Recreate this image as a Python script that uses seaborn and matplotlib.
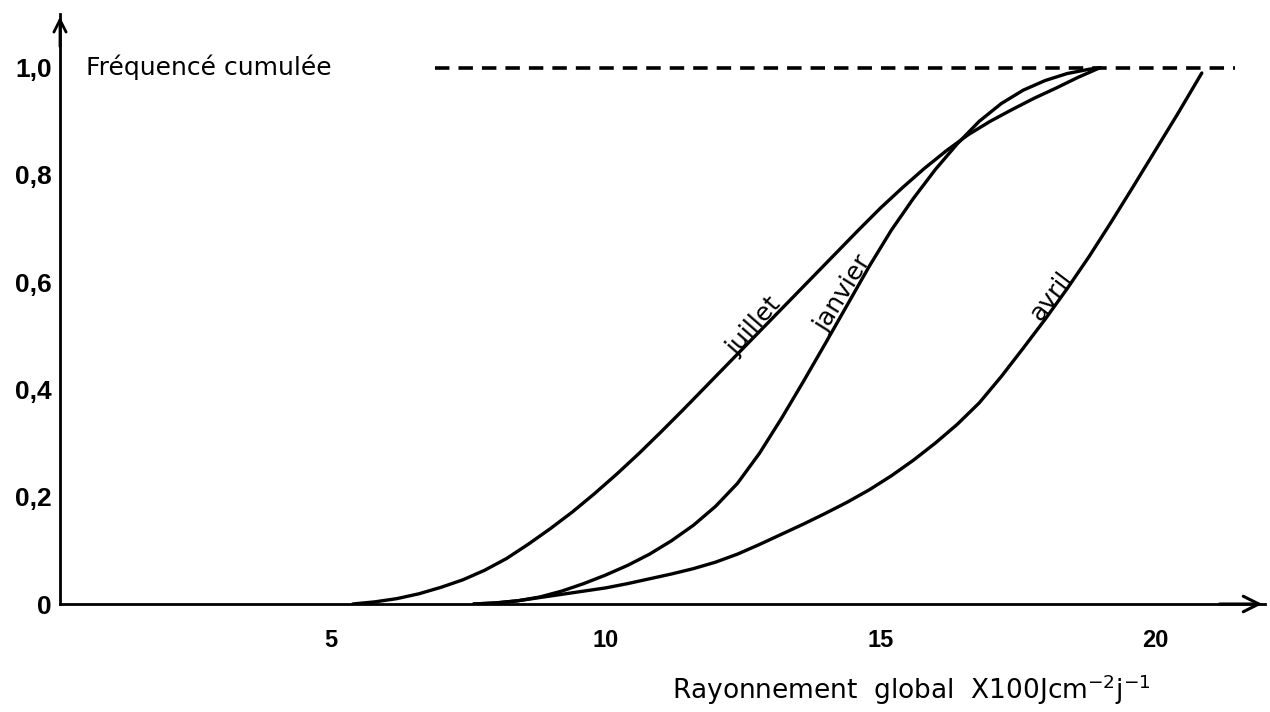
import matplotlib
matplotlib.use("Agg")
import matplotlib.pyplot as plt
import seaborn as sns
import pandas as pd

# ---- data ----
juillet_x = [5.4, 5.8, 6.2, 6.6, 7.0, 7.4, 7.8, 8.2, 8.6, 9.0, 9.4, 9.8, 10.2, 10.6,
             11.0, 11.4, 11.8, 12.2, 12.6, 13.0, 13.4, 13.8, 14.2, 14.6, 15.0, 15.4,
             15.8, 16.2, 16.6, 17.0, 17.4, 17.8, 18.2, 18.6, 19.0]
juillet_y = [0.0, 0.004, 0.01, 0.019, 0.031, 0.045, 0.063, 0.085, 0.112, 0.141, 0.172,
             0.206, 0.242, 0.28, 0.32, 0.361, 0.403, 0.445, 0.487, 0.529, 0.571, 0.613,
             0.655, 0.697, 0.738, 0.776, 0.812, 0.845, 0.875, 0.9, 0.922, 0.943, 0.962,
             0.982, 1.0]

janvier_x = [7.6, 8.0, 8.4, 8.8, 9.2, 9.6, 10.0, 10.4, 10.8, 11.2, 11.6, 12.0, 12.4,
             12.8, 13.2, 13.6, 14.0, 14.4, 14.8, 15.2, 15.6, 16.0, 16.4, 16.8, 17.2,
             17.6, 18.0, 18.4, 18.8, 19.0]
janvier_y = [0.0, 0.002, 0.006, 0.013, 0.024, 0.038, 0.054, 0.072, 0.093, 0.118, 0.147,
             0.182, 0.225, 0.281, 0.346, 0.415, 0.486, 0.558, 0.63, 0.697, 0.756, 0.81,
             0.858, 0.9, 0.933, 0.958, 0.976, 0.989, 0.997, 1.0]

avril_x = [7.6, 8.0, 8.4, 8.8, 9.2, 9.6, 10.0, 10.4, 10.8, 11.2, 11.6, 12.0, 12.4,
           12.8, 13.2, 13.6, 14.0, 14.4, 14.8, 15.2, 15.6, 16.0, 16.4, 16.8, 17.2,
           17.6, 18.0, 18.4, 18.8, 19.2, 19.6, 20.0, 20.4, 20.85]
avril_y = [0.0, 0.002, 0.006, 0.012, 0.018, 0.024, 0.03, 0.038, 0.047, 0.056, 0.066,
           0.078, 0.093, 0.111, 0.13, 0.149, 0.169, 0.19, 0.213, 0.239, 0.268, 0.3,
           0.335, 0.375, 0.424, 0.477, 0.531, 0.588, 0.648, 0.712, 0.778, 0.845,
           0.912, 0.99]

dashed_x = [6.9, 21.45]
dashed_y = [1.0, 1.0]

x_ticks = [5, 10, 15, 20]
x_tick_labels = ["5", "10", "15", "20"]
y_ticks = [0, 0.2, 0.4, 0.6, 0.8, 1.0]
y_tick_labels = ["0", "0,2", "0,4", "0,6", "0,8", "1,0"]

curve_labels = ["juillet", "janvier", "avril"]
label_pos_x = [12.8, 14.42, 18.22]
label_pos_y = [0.51, 0.572, 0.567]
label_rot = [49, 58, 53]

y_title = "Fréquencé cumulée"
x_title = r"Rayonnement  global  X100Jcm$^{-2}$j$^{-1}$"

# ---- build frame ----
df = pd.concat([
    pd.DataFrame({"x": juillet_x, "y": juillet_y, "mois": "juillet"}),
    pd.DataFrame({"x": janvier_x, "y": janvier_y, "mois": "janvier"}),
    pd.DataFrame({"x": avril_x, "y": avril_y, "mois": "avril"}),
], ignore_index=True)
dash_df = pd.DataFrame({"x": dashed_x, "y": dashed_y})

sns.set_theme(style="white")
plt.rcParams["font.family"] = ["DejaVu Sans"]
plt.rcParams["mathtext.fontset"] = "dejavusans"
plt.rcParams["text.color"] = "black"
plt.rcParams["xtick.color"] = "black"
plt.rcParams["ytick.color"] = "black"
plt.rcParams["axes.labelcolor"] = "black"

fig = plt.figure(figsize=(12.7, 7.12), dpi=100)
ax = fig.add_axes([60 / 1270, (712 - 604) / 712, (1265 - 60) / 1270, 590 / 712])

for m in ["juillet", "janvier", "avril"]:
    sns.lineplot(data=df[df["mois"] == m], x="x", y="y", ax=ax, color="black",
                 linewidth=2.4, sort=False, estimator=None, legend=False)

sns.lineplot(data=dash_df, x="x", y="y", ax=ax, color="black", linewidth=2.6,
             estimator=None, legend=False, linestyle=(0, (4, 2.5)))

ax.set_xlim(0.07, 22.0)
ax.set_ylim(0, 1.1)

for s in ["top", "right"]:
    ax.spines[s].set_visible(False)
for s in ["left", "bottom"]:
    ax.spines[s].set_linewidth(2.0)
    ax.spines[s].set_color("black")

ax.set_xticks(x_ticks)
ax.set_xticklabels(x_tick_labels)
ax.set_yticks(y_ticks)
ax.set_yticklabels(y_tick_labels)

tick_font = ["Liberation Sans Narrow", "Liberation Sans", "DejaVu Sans"]
ax.tick_params(axis="x", direction="in", length=6, width=1.5, pad=18, labelsize=17,
               colors="black")
ax.tick_params(axis="y", direction="in", length=5, width=1.5, pad=6, labelsize=19,
               colors="black")
for lab in ax.get_xticklabels() + ax.get_yticklabels():
    lab.set_family(tick_font)
    lab.set_fontweight("bold")

ax.set_xlabel("")
ax.set_ylabel("")

# arrows on the axes
ax.annotate("", xy=(1.0, 0), xycoords="axes fraction", xytext=(0.96, 0),
            arrowprops=dict(arrowstyle="->", lw=2.2, color="black", mutation_scale=28),
            annotation_clip=False)
ax.annotate("", xy=(0, 1.0), xycoords="axes fraction", xytext=(0, 0.94),
            arrowprops=dict(arrowstyle="->", lw=2.0, color="black", mutation_scale=22),
            annotation_clip=False)

# curve labels (baseline resting on the curve)
for t, lx, ly, r in zip(curve_labels, label_pos_x, label_pos_y, label_rot):
    ax.text(lx, ly, t, rotation=r, ha="center", va="baseline", fontsize=18,
            rotation_mode="anchor", color="black")

ax.text(0.55, 1.0, y_title, ha="left", va="center", fontsize=18, color="black")
fig.text(911 / 1270, 1 - 690 / 712, x_title, ha="center", va="center", fontsize=19,
         color="black")

fig.savefig("out.png", dpi=100, facecolor="white")
